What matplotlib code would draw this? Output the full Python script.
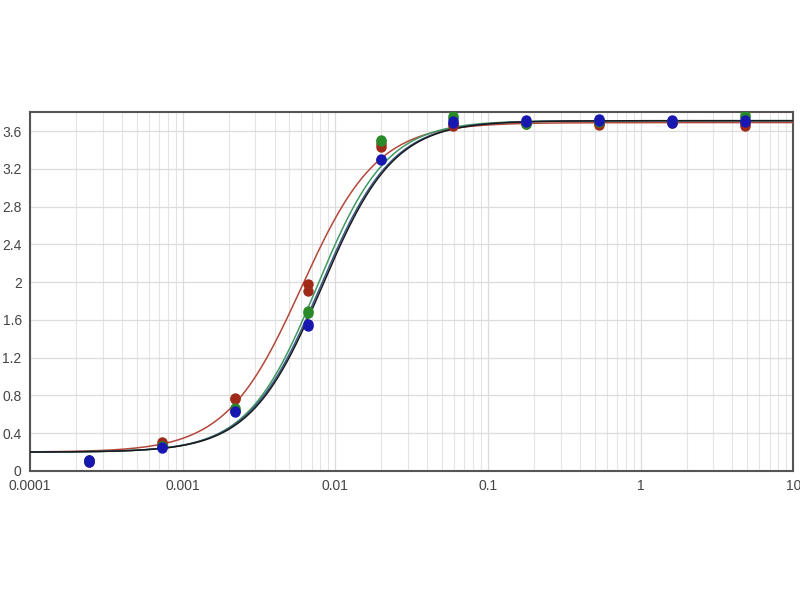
import numpy as np
import matplotlib
matplotlib.use("Agg")
import matplotlib.pyplot as plt
from matplotlib.ticker import FixedLocator, FixedFormatter, LogLocator, NullFormatter

# Concentrations (3-fold dilution series)
conc = [0.000244, 0.000732, 0.00219, 0.00658, 0.0198, 0.0593, 0.178, 0.533, 1.6, 4.8]

# Replicate OD readings per series
red_a   = [0.10, 0.31, 0.77, 1.98, 3.46, 3.65, 3.67, 3.66, 3.69, 3.65]
red_b   = [0.12, 0.29, 0.76, 1.91, 3.43, 3.67, 3.69, 3.68, 3.70, 3.67]
green_a = [0.11, 0.27, 0.67, 1.69, 3.51, 3.76, 3.67, 3.72, 3.71, 3.77]
green_b = [0.12, 0.26, 0.65, 1.67, 3.49, 3.74, 3.69, 3.70, 3.70, 3.75]
blue_a  = [0.10, 0.24, 0.64, 1.56, 3.30, 3.71, 3.72, 3.73, 3.72, 3.72]
blue_b  = [0.12, 0.25, 0.62, 1.54, 3.29, 3.69, 3.70, 3.71, 3.69, 3.70]

# 4-parameter logistic fit parameters: bottom, top, EC50, hill
fit_names  = ["red", "green", "blue", "black"]
fit_bottom = [0.20, 0.20, 0.20, 0.20]
fit_top    = [3.69, 3.71, 3.71, 3.71]
fit_ec50   = [0.0060, 0.0076, 0.0080, 0.0082]
fit_hill   = [1.75, 1.90, 1.85, 1.85]
fit_colors = ["#b5473a", "#3f9a63", "#3b5a8c", "#1a1a1a"]

yticks = [0, 0.4, 0.8, 1.2, 1.6, 2, 2.4, 2.8, 3.2, 3.6]
ytick_labels = ["0", "0.4", "0.8", "1.2", "1.6", "2", "2.4", "2.8", "3.2", "3.6"]
xticks = [0.0001, 0.001, 0.01, 0.1, 1, 10]
xtick_labels = ["0.0001", "0.001", "0.01", "0.1", "1", "10"]

plt.rcParams['font.family'] = ['Liberation Sans', 'DejaVu Sans']

fig = plt.figure(figsize=(8, 6), dpi=100)
ax = fig.add_axes([0.0375, 0.215, 0.954, 0.598])

xs = np.logspace(-4, 1, 600)
for b, t, c, h, col in zip(fit_bottom, fit_top, fit_ec50, fit_hill, fit_colors):
    ys = b + (t - b) / (1 + (c / xs) ** h)
    ax.plot(xs, ys, color=col, lw=1.1, zorder=3)

ms = 7.5
for ya, yb, col in [(red_a, red_b, "#a02a1a"), (green_a, green_b, "#2a8a2a"), (blue_a, blue_b, "#1818b0")]:
    ax.plot(conc, ya, 'o', color=col, ms=ms, mec='none', zorder=4)
    ax.plot(conc, yb, 'o', color=col, ms=ms, mec='none', zorder=4)

ax.set_xscale('log')
ax.set_xlim(0.0001, 10)
ax.set_ylim(0, 3.8)
ax.xaxis.set_major_locator(FixedLocator(xticks))
ax.xaxis.set_major_formatter(FixedFormatter(xtick_labels))
ax.xaxis.set_minor_locator(LogLocator(base=10, subs=np.arange(2, 10)))
ax.xaxis.set_minor_formatter(NullFormatter())
ax.yaxis.set_major_locator(FixedLocator(yticks))
ax.yaxis.set_major_formatter(FixedFormatter(ytick_labels))

ax.grid(True, which='major', axis='both', color='#dcdcdc', lw=0.9)
ax.grid(True, which='minor', axis='x', color='#e4e4e4', lw=0.8)
ax.set_axisbelow(True)
ax.tick_params(axis='both', which='both', length=0, labelsize=10, colors='#444444', pad=6)
for s in ax.spines.values():
    s.set_color('#555555')
    s.set_linewidth(1.5)

fig.savefig("out.png", dpi=100)
